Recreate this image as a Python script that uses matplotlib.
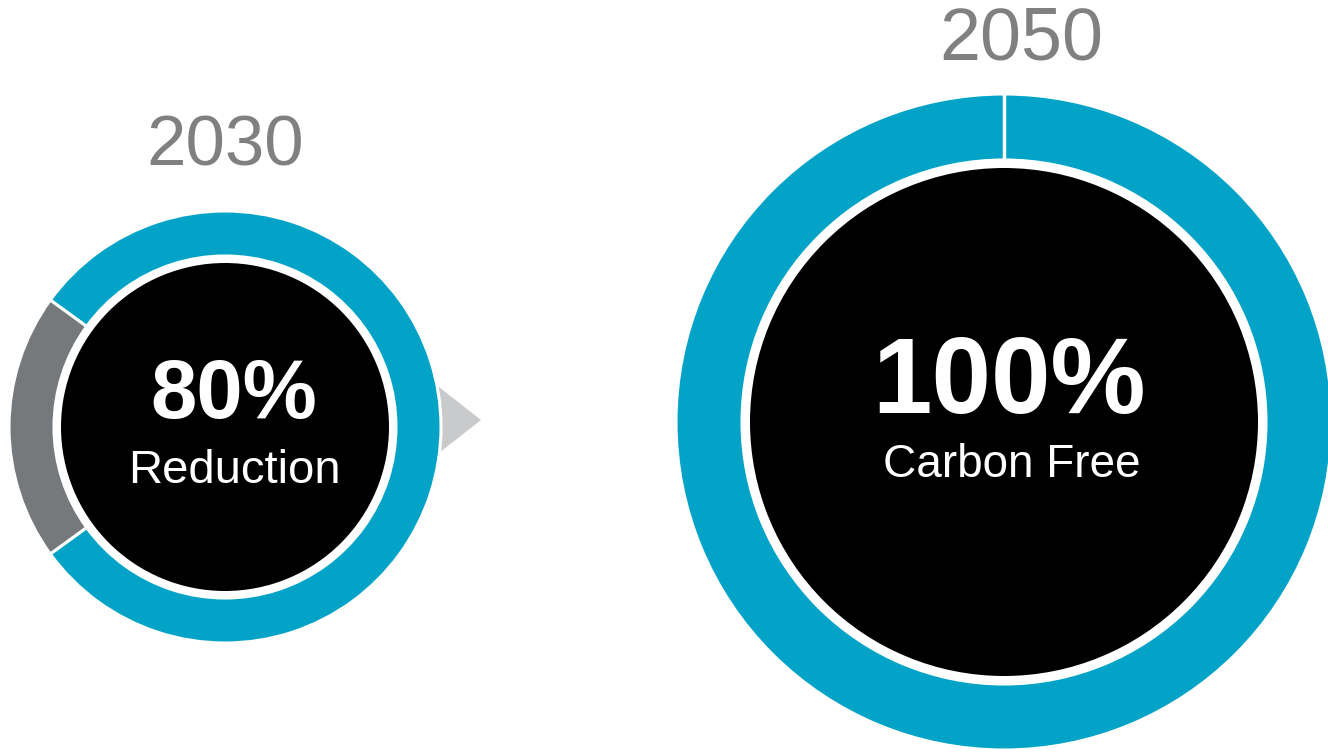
import matplotlib
matplotlib.use("Agg")
import matplotlib.pyplot as plt
from matplotlib.patches import Circle, Polygon

# ---- data ----
years = ["2030", "2050"]
reduction_2030 = [80, 20]      # reduced share, remaining share
reduction_2050 = [100]
big_labels = ["80%", "100%"]
sub_labels = ["Reduction", "Carbon Free"]

TEAL = "#02A3C6"
GRAY = "#76797C"
TRI = "#C9CACB"
YEAR_C = "#808080"

W, H = 1328, 756
fig = plt.figure(figsize=(W / 100, H / 100), dpi=100)
ax = fig.add_axes([0, 0, 1, 1])
plt.rcParams['font.family'] = ['Liberation Sans', 'DejaVu Sans']

def fy(y):
    return H - y

# arrow triangle behind left donut
ax.add_patch(Polygon([(425, fy(376)), (481, fy(420)), (425, fy(464))],
                     closed=True, facecolor=TRI, edgecolor="none", zorder=0))

# left donut (2030)
c1 = (225, fy(427)); r1 = 216
ax.pie(reduction_2030, radius=r1, center=c1, colors=[TEAL, GRAY],
       startangle=216, counterclock=True,
       wedgeprops=dict(width=45, edgecolor="white", linewidth=2.2))
ax.add_patch(Circle(c1, 164, facecolor="black", edgecolor="none", zorder=3))

# right donut (2050)
c2 = (1004, fy(422)); r2 = 328; w2 = 66
ax.pie(reduction_2050, radius=r2, center=c2, colors=[TEAL],
       startangle=90, counterclock=False,
       wedgeprops=dict(width=w2, edgecolor="white", linewidth=2.2))
# segment boundary at the start angle (12 o'clock)
ax.plot([c2[0], c2[0]], [c2[1] + r2 - w2, c2[1] + r2 + 2], color="white",
        lw=2.5, zorder=4, solid_capstyle="butt")
ax.add_patch(Circle(c2, 254, facecolor="black", edgecolor="none", zorder=3))

ax.set_xlim(0, W)
ax.set_ylim(0, H)
ax.set_aspect("equal")
ax.set_axis_off()

fam = ['Liberation Sans', 'DejaVu Sans']
# year labels
ax.text(225, fy(166), years[0], ha="center", va="baseline", fontsize=51,
        color=YEAR_C, family=fam, zorder=5)
ax.text(1021, fy(60), years[1], ha="center", va="baseline", fontsize=53,
        color=YEAR_C, family=fam, zorder=5)

# centre labels
ax.text(234, fy(418), big_labels[0], ha="center", va="baseline", fontsize=60,
        fontweight="bold", color="white", family=fam, zorder=5)
ax.text(234, fy(483), sub_labels[0], ha="center", va="baseline", fontsize=34,
        color="white", family=fam, zorder=5)
ax.text(1009, fy(413), big_labels[1], ha="center", va="baseline", fontsize=77,
        fontweight="bold", color="white", family=fam, zorder=5)
ax.text(1012, fy(477), sub_labels[1], ha="center", va="baseline", fontsize=33,
        color="white", family=fam, zorder=5)

fig.savefig("out.png", dpi=100, facecolor="white")
